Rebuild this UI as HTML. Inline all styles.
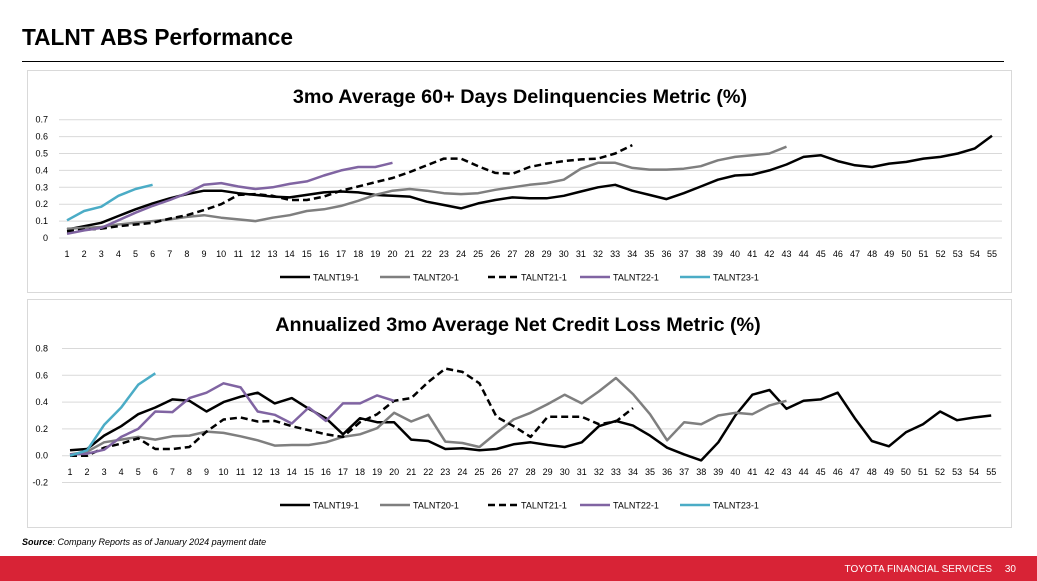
<!DOCTYPE html>
<html><head><meta charset="utf-8"><style>
body{margin:0;width:1037px;height:581px;background:#fff;overflow:hidden;font-family:"Liberation Sans",sans-serif;position:relative}
</style></head><body>
<svg id="s" width="1037" height="581" xmlns="http://www.w3.org/2000/svg" style="position:absolute;left:0;top:0">
<text x="22" y="45" font-size="22.7" font-weight="bold" font-family="Liberation Sans, sans-serif" fill="#000">TALNT ABS Performance</text>
<line x1="22" y1="61.5" x2="1004" y2="61.5" stroke="#000" stroke-width="1"/>
<rect x="27.5" y="70.5" width="984" height="222" fill="#fff" stroke="#d9d9d9"/>
<rect x="27.5" y="299.5" width="984" height="228" fill="#fff" stroke="#d9d9d9"/>
<text x="520" y="103" text-anchor="middle" font-size="19.8" font-weight="bold" fill="#000">3mo Average 60+ Days Delinquencies Metric (%)</text>
<text x="518" y="331" text-anchor="middle" font-size="19.8" font-weight="bold" fill="#000">Annualized 3mo Average Net Credit Loss Metric (%)</text>
<text x="22" y="545" font-size="9" font-style="italic" fill="#000"><tspan font-weight="bold">Source</tspan>: Company Reports as of January 2024 payment date</text>
<rect x="0" y="556" width="1037" height="25" fill="#d82336"/>
<text x="992" y="572" text-anchor="end" font-size="10" fill="#fff">TOYOTA FINANCIAL SERVICES</text>
<text x="1016" y="572" text-anchor="end" font-size="10" fill="#fff">30</text>
<g id="g"></g>
</svg>
<script>
var g=document.getElementById('g'),h='';
function ln(x1,y1,x2,y2,st){h+='<line x1="'+x1+'" y1="'+y1+'" x2="'+x2+'" y2="'+y2+'" '+st+'/>';}
function tx(x,y,t,a,fs){h+='<text x="'+x+'" y="'+y+'" text-anchor="'+(a||'middle')+'" font-size="'+(fs||9)+'" fill="#000">'+t+'</text>';}
var cols={a:'stroke="#000" stroke-width="2.5"',b:'stroke="#7f7f7f" stroke-width="2.5"',c:'stroke="#000" stroke-width="2.5" stroke-dasharray="7,4"',d:'stroke="#8064a2" stroke-width="2.5"',e:'stroke="#4bacc6" stroke-width="2.5"'};
function chart(c){
 var X=function(i){return c.x0+(i-1)*c.dx}, Y=function(v){return c.y0-v*c.py};
 c.grid.forEach(function(v){ln(c.x0-8,Y(v),X(55)+10,Y(v),'stroke="#d9d9d9" stroke-width="1"');tx(48,Y(v)+3,c.fmt(v),'end',9);});
 for(var i=1;i<=55;i++)tx(X(i),c.ty,i,'middle',9);
 ['a','b','c','d','e'].forEach(function(k){var d=c.data[k],p='';d.forEach(function(v,j){p+=(j?'L':'M')+X(j+1).toFixed(1)+','+Y(v).toFixed(1);});
  h+='<path d="'+p+'" fill="none" '+cols[k]+' stroke-linejoin="round"/>';});
 var L=[[280,'TALNT19-1','a'],[380,'TALNT20-1','b'],[488,'TALNT21-1','c'],[580,'TALNT22-1','d'],[680,'TALNT23-1','e']];
 L.forEach(function(l){ln(l[0],c.ly,l[0]+30,c.ly,cols[l[2]]);tx(l[0]+33,c.ly+3.5,l[1],'start',9);});
}
chart({x0:67,dx:17.13,y0:238,py:169,grid:[0,.1,.2,.3,.4,.5,.6,.7],fmt:function(v){return v==0?'0':v.toFixed(1)},ty:257,ly:277,data:{
a:[.05,.07,.09,.13,.17,.205,.235,.26,.28,.28,.265,.255,.245,.24,.255,.27,.275,.27,.255,.25,.245,.215,.195,.175,.205,.225,.24,.235,.235,.25,.275,.3,.315,.28,.255,.23,.265,.305,.345,.37,.375,.4,.435,.48,.49,.455,.43,.42,.44,.45,.47,.48,.5,.53,.605],
b:[.055,.06,.065,.08,.09,.1,.11,.125,.135,.12,.11,.1,.12,.135,.16,.17,.19,.22,.255,.28,.29,.28,.265,.26,.265,.285,.3,.315,.325,.345,.41,.445,.445,.415,.405,.405,.41,.425,.46,.48,.49,.5,.54],
c:[.04,.05,.055,.07,.08,.09,.115,.135,.165,.2,.255,.26,.25,.225,.225,.245,.28,.305,.33,.355,.39,.43,.47,.47,.425,.385,.38,.42,.44,.455,.465,.47,.5,.55],
d:[.025,.045,.06,.105,.15,.19,.225,.265,.315,.325,.305,.29,.3,.32,.335,.37,.4,.42,.42,.445],
e:[.105,.16,.185,.25,.29,.315]}});
chart({x0:70,dx:17.06,y0:455.7,py:134,grid:[-.2,0,.2,.4,.6,.8],fmt:function(v){return v.toFixed(1)},ty:475,ly:505,data:{
a:[.04,.05,.15,.22,.31,.36,.42,.41,.33,.4,.44,.47,.39,.43,.35,.28,.16,.28,.25,.25,.12,.11,.05,.055,.04,.05,.085,.1,.08,.065,.1,.22,.26,.225,.15,.06,.01,-.035,.1,.3,.455,.49,.35,.41,.42,.47,.28,.11,.07,.175,.235,.33,.265,.285,.3],
b:[.01,.03,.1,.12,.14,.12,.145,.15,.18,.17,.145,.115,.075,.08,.08,.1,.14,.16,.205,.32,.255,.305,.105,.095,.065,.17,.27,.32,.385,.455,.39,.48,.58,.46,.31,.115,.25,.235,.3,.32,.31,.375,.41],
c:[0,0,.06,.09,.13,.05,.05,.065,.18,.27,.285,.255,.26,.22,.19,.16,.14,.25,.31,.41,.43,.55,.65,.625,.54,.29,.22,.14,.29,.29,.29,.235,.255,.355],
d:[.01,.015,.045,.14,.2,.33,.325,.43,.47,.54,.51,.33,.305,.24,.36,.26,.39,.39,.45,.41],
e:[0,.04,.23,.36,.53,.615]}});
g.innerHTML=h;
</script>
</body></html>
